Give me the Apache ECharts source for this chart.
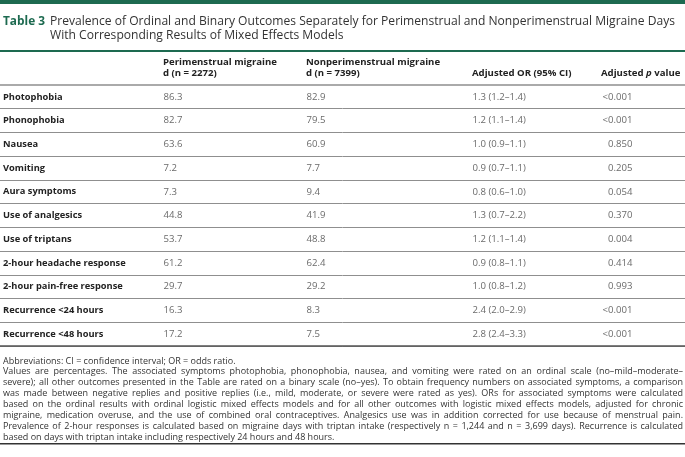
<!DOCTYPE html>
<html><head><meta charset="utf-8">
<script src="https://cdn.jsdelivr.net/npm/echarts@6/dist/echarts.min.js"></script>
<style>html,body{margin:0;padding:0;background:#fff}#c{width:685px;height:457px}</style>
</head><body><div id="c"></div>
<script>
// ---- data ----
const rowLabels = ['Photophobia','Phonophobia','Nausea','Vomiting','Aura symptoms','Use of analgesics','Use of triptans','2-hour headache response','2-hour pain-free response','Recurrence <24 hours','Recurrence <48 hours'];
const periValues = [86.3, 82.7, 63.6, 7.2, 7.3, 44.8, 53.7, 61.2, 29.7, 16.3, 17.2];
const nonPeriValues = [82.9, 79.5, 60.9, 7.7, 9.4, 41.9, 48.8, 62.4, 29.2, 8.3, 7.5];
const orEstimates = [1.3, 1.2, 1.0, 0.9, 0.8, 1.3, 1.2, 0.9, 1.0, 2.4, 2.8];
const orLower = [1.2, 1.1, 0.9, 0.7, 0.6, 0.7, 1.1, 0.8, 0.8, 2.0, 2.4];
const orUpper = [1.4, 1.4, 1.1, 1.1, 1.0, 2.2, 1.4, 1.1, 1.2, 2.9, 3.3];
const pValues = ['<0.001','<0.001','0.850','0.205','0.054','0.370','0.004','0.414','0.993','<0.001','<0.001'];
const periHeader = ['Perimenstrual migraine', 'd (n = 2272)'];
const nonPeriHeader = ['Nonperimenstrual migraine', 'd (n = 7399)'];
const orHeader = 'Adjusted OR (95% CI)';
const pHeader = ['Adjusted ', 'p', ' value'];
const titleLabel = 'Table 3';
const titleLines = ['Prevalence of Ordinal and Binary Outcomes Separately for Perimenstrual and Nonperimenstrual Migraine Days',
  'With Corresponding Results of Mixed Effects Models'];
const footnoteLines = [
  'Abbreviations: CI = confidence interval; OR = odds ratio.',
  'Values are percentages. The associated symptoms photophobia, phonophobia, nausea, and vomiting were rated on an ordinal scale (no\u2013mild\u2013moderate\u2013',
  'severe); all other outcomes presented in the Table are rated on a binary scale (no\u2013yes). To obtain frequency numbers on associated symptoms, a comparison',
  'was made between negative replies and positive replies (i.e., mild, moderate, or severe were rated as yes). ORs for associated symptoms were calculated',
  'based on the ordinal results with ordinal logistic mixed effects models and for all other outcomes with logistic mixed effects models, adjusted for chronic',
  'migraine, medication overuse, and the use of combined oral contraceptives. Analgesics use was in addition corrected for use because of menstrual pain.',
  'Prevalence of 2-hour responses is calculated based on migraine days with triptan intake (respectively n = 1,244 and n = 3,699 days). Recurrence is calculated',
  'based on days with triptan intake including respectively 24 hours and 48 hours.'
];
const justifiedFootnote = [false, true, true, true, true, true, true, false];

// ---- layout / style ----
const W = 685;
const FONT = '"Open Sans", "Noto Sans", sans-serif';
const GREEN = '#1d6a50';
const colX = [163, 306, 472, 633];
const gridTop = 85, gridHeight = 261;
const fnTop = 361, fnStep = 10.9, fnSize = 9, fnLeft = 3, fnRight = 683;

const ctx = document.createElement('canvas').getContext('2d');
function measure(t, font) { ctx.font = font; return ctx.measureText(t).width; }

const graphics = [];
graphics.push({type:'rect', shape:{x:0, y:0, width:W, height:4}, style:{fill:GREEN}});
graphics.push({type:'rect', shape:{x:0, y:50, width:W, height:2}, style:{fill:GREEN}});
graphics.push({type:'rect', shape:{x:0, y:443, width:W, height:1.6}, style:{fill:'#333'}});

// title
const tFont = '13px ' + FONT;
const tBold = 'bold 13px ' + FONT;
const tlW = measure(titleLabel, tBold);
graphics.push({type:'text', x:3, y:21, scaleX: 42 / tlW, style:{text:titleLabel, font:tBold, fill:GREEN, verticalAlign:'middle'}});
const l1W = measure(titleLines[0], tFont);
const tScale = 625 / l1W;
titleLines.forEach((t, i) => {
  graphics.push({type:'text', x:50, y:21 + i * 14.5, scaleX: tScale, style:{text:t, font:tFont, fill:'#333', verticalAlign:'middle'}});
});

// headers
const hFont = 'bold 9.6px ' + FONT;
[[periHeader, colX[0]], [nonPeriHeader, colX[1]]].forEach(([h, x]) => {
  h.forEach((t, i) => graphics.push({type:'text', x:x, y:62 + i * 11, style:{text:t, font:hFont, fill:'#222', verticalAlign:'middle'}}));
});
graphics.push({type:'text', x:colX[2], y:73, style:{text:orHeader, font:hFont, fill:'#222', verticalAlign:'middle'}});
graphics.push({type:'text', x:601, y:73, style:{
  text:'{b|' + pHeader[0] + '}{i|' + pHeader[1] + '}{b|' + pHeader[2] + '}',
  rich:{b:{font:hFont, fill:'#222'}, i:{font:'italic bold 9.6px ' + FONT, fill:'#222'}},
  verticalAlign:'middle'}});

// footnotes (justified lines like the print layout)
const fFont = fnSize + 'px ' + FONT;
footnoteLines.forEach((line, li) => {
  const y = fnTop + li * fnStep;
  if (!justifiedFootnote[li]) {
    graphics.push({type:'text', x:fnLeft, y:y, style:{text:line, font:fFont, fill:'#333', verticalAlign:'middle'}});
    return;
  }
  const words = line.split(' ');
  const ws = words.map(w => measure(w, fFont));
  const total = ws.reduce((a, b) => a + b, 0);
  const gap = (fnRight - fnLeft - total) / (words.length - 1);
  let x = fnLeft;
  words.forEach((w, i) => {
    graphics.push({type:'text', x:x, y:y, style:{text:w, font:fFont, fill:'#333', verticalAlign:'middle'}});
    x += ws[i] + gap;
  });
});

function cellSeries(xPos, texts, pos) {
  return {
    type:'scatter', symbolSize:1, itemStyle:{color:'rgba(0,0,0,0)'}, silent:true,
    data: rowLabels.map((r, i) => ({value:[xPos, r], txt:texts[i]})),
    label: {show:true, fontFamily:FONT, fontSize:9.6, color:'#444', distance:0, position:pos, formatter: p => p.data.txt}
  };
}

const option = {
  animation:false,
  backgroundColor:'#fff',
  grid:{left:0, width:W, top:gridTop, height:gridHeight, containLabel:false},
  xAxis:[
    {type:'value', min:0, max:W, position:'bottom', axisLine:{show:true, onZero:false, lineStyle:{color:'#555', width:1.5}}, axisTick:{show:false}, axisLabel:{show:false}, splitLine:{show:false}},
    {type:'value', min:0, max:W, position:'top', axisLine:{show:true, onZero:false, lineStyle:{color:'#aaa', width:2}}, axisTick:{show:false}, axisLabel:{show:false}, splitLine:{show:false}}
  ],
  yAxis:{type:'category', inverse:true, data:rowLabels, axisLine:{show:false}, axisTick:{show:false},
    axisLabel:{inside:true, margin:3, align:'left', fontFamily:FONT, fontWeight:'bold', fontSize:9.3, color:'#222'},
    splitLine:{show:true, lineStyle:{color:'#8f8f8f', width:1}}},
  series:[
    cellSeries(colX[0], periValues.map(v => v.toFixed(1)), 'right'),
    cellSeries(colX[1], nonPeriValues.map(v => v.toFixed(1)), 'right'),
    cellSeries(colX[2], orEstimates.map((v, i) => v.toFixed(1) + ' (' + orLower[i].toFixed(1) + '\u2013' + orUpper[i].toFixed(1) + ')'), 'right'),
    cellSeries(colX[3], pValues, 'left')
  ],
  graphic:graphics
};
const chart = echarts.init(document.getElementById('c'), null, {renderer:'canvas'});
chart.setOption(option);
</script></body></html>
